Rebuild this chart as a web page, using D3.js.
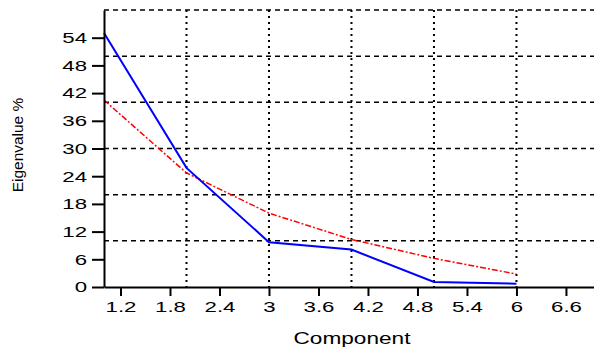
<!DOCTYPE html>
<html>
<head>
<meta charset="utf-8">
<script src="https://cdn.jsdelivr.net/npm/d3@7"></script>
<style>
  body { margin: 0; background: #fff; }
  svg { font-family: "Liberation Sans", Arial, sans-serif; }
</style>
</head>
<body>
<svg id="chart" width="594" height="347"></svg>
<script>
"use strict";

//Chart values
var components = [1, 2, 3, 4, 5, 6];
var eigenBlue = [55, 25.8, 9.7, 8.1, 1.1, 0.7];
var eigenRed = [40.5, 24.7, 16.0, 10.3, 6.2, 2.8];
var yTicks = [0, 6, 12, 18, 24, 30, 36, 42, 48, 54];
var xTicks = [1.2, 1.8, 2.4, 3, 3.6, 4.2, 4.8, 5.4, 6, 6.6];
var yGrid = [10, 20, 30, 40, 50, 60];
var xGrid = [2, 3, 4, 5, 6];

var svg = d3.select("#chart"),
margin = {top: 10, right: 0, bottom: 60, left: 104},
width = svg.attr("width") - margin.left - margin.right,
height = svg.attr("height") - margin.top - margin.bottom,
g = svg.append("g").attr("transform", "translate(" + margin.left + "," + margin.top + ")");

var x = d3.scaleLinear().domain([1, 6.94]).range([0, width]),
y = d3.scaleLinear().domain([0, 60]).range([height, 0]);

//Stretches text wide like the original output
function stretch(sel, k) {
  sel.each(function() {
    var w = this.getComputedTextLength();
    d3.select(this).attr("textLength", w * k).attr("lengthAdjust", "spacingAndGlyphs");
  });
}

//Grid lines
g.selectAll(".hgrid")
.data(yGrid)
.enter().append("line")
.attr("x1", 0).attr("x2", width)
.attr("y1", function(d) { return y(d); })
.attr("y2", function(d) { return y(d); })
.attr("stroke", "#000")
.attr("stroke-width", 1.5)
.attr("stroke-dasharray", "5,4");

g.selectAll(".vgrid")
.data(xGrid)
.enter().append("line")
.attr("x1", function(d) { return x(d); })
.attr("x2", function(d) { return x(d); })
.attr("y1", 0).attr("y2", height)
.attr("stroke", "#000")
.attr("stroke-width", 2)
.attr("stroke-dasharray", "2,4");

//Lines
var line = d3.line()
.x(function(d, i) { return x(components[i]); })
.y(function(d) { return y(d); });

g.append("path")
.datum(eigenRed)
.attr("fill", "none")
.attr("stroke", "#ff0000")
.attr("stroke-width", 1.5)
.attr("stroke-dasharray", "6,2,2,2")
.attr("d", line);

g.append("path")
.datum(eigenBlue)
.attr("fill", "none")
.attr("stroke", "#0000ff")
.attr("stroke-width", 2)
.attr("d", line);

//Axes
var xAxis = g.append("g")
.attr("transform", "translate(0," + height + ")")
.call(d3.axisBottom(x).tickValues(xTicks).tickFormat(function(d) { return String(d); })
  .tickSize(9).tickSizeOuter(0).tickPadding(5));

var yAxis = g.append("g")
.call(d3.axisLeft(y).tickValues(yTicks).tickSize(12).tickSizeOuter(0).tickPadding(5));

[xAxis, yAxis].forEach(function(a) {
  a.select(".domain").attr("stroke", "#000").attr("stroke-width", 2);
  a.selectAll(".tick line").attr("stroke", "#000").attr("stroke-width", 2);
  a.selectAll(".tick text").attr("fill", "#000").style("font-size", "15px").call(stretch, 1.48);
});

//Axis titles
svg.append("text")
.attr("x", 352)
.attr("y", 344)
.attr("text-anchor", "middle")
.style("font-size", "17px")
.text("Component")
.call(stretch, 1.33);

svg.append("text")
.attr("transform", "translate(23,145) rotate(-90)")
.attr("text-anchor", "middle")
.style("font-size", "15px")
.text("Eigenvalue %")
.call(stretch, 1.03);
</script>
</body>
</html>
